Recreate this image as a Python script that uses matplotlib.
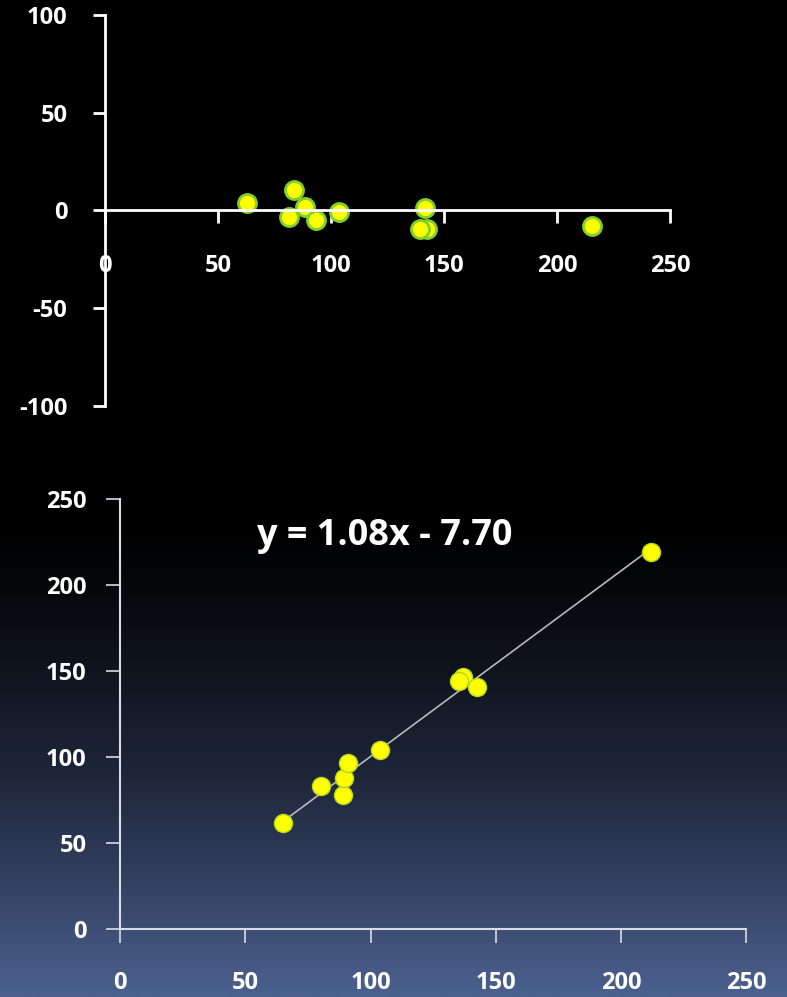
import numpy as np
import matplotlib.pyplot as plt
from matplotlib.colors import LinearSegmentedColormap

# residual plot (top)
res_x = [62.8, 83.5, 81.4, 88.5, 93.2, 103.4, 141.6, 142.3, 139.4, 215.3]
res_y = [3.7, 10.6, -3.1, 1.7, -5.1, -0.7, 1.2, -9.4, -9.4, -8.2]

# scatter with fit (bottom)
sc_x = [64.9, 80.2, 89.1, 89.5, 91.1, 103.6, 137.0, 135.3, 142.6, 211.8]
sc_y = [61.4, 83.3, 77.9, 88.0, 96.3, 104.1, 146.7, 144.2, 140.9, 219.0]
slope, intercept = 1.08, -7.70

ticks_x = [0, 50, 100, 150, 200, 250]
ticks_top_y = [-100, -50, 0, 50, 100]
ticks_bot_y = [0, 50, 100, 150, 200, 250]

plt.rcParams['font.family'] = ['Open Sans', 'DejaVu Sans']
plt.rcParams['font.weight'] = 'bold'
plt.rcParams['axes.unicode_minus'] = False

fig = plt.figure(figsize=(7.87, 9.97), dpi=100)

# background gradient
bg = fig.add_axes([0, 0, 1, 1])
cmap = LinearSegmentedColormap.from_list('bg', [(0, 0, 0), (30/255, 38/255, 58/255), (75/255, 97/255, 142/255)])
grad = np.concatenate([np.zeros(530), np.linspace(0, 1, 467) ** 1.1])
bg.imshow(grad[:, None], aspect='auto', cmap=cmap, vmin=0, vmax=1, extent=[0, 1, 0, 1], origin='upper')
bg.axis('off')

marker_kw = dict(ls='none', marker='o', markersize=13, markerfacecolor='#ffff00')

# top residual axes
ax1 = fig.add_axes([0.1334, 0.5928, 0.718, 0.3922])
ax1.patch.set_alpha(0)
ax1.plot(res_x, res_y, markeredgecolor='#7fcf2f', markeredgewidth=2, **marker_kw)
ax1.set_xlim(0, 250)
ax1.set_ylim(-100, 100)
ax1.spines['left'].set_position(('data', 0))
ax1.spines['bottom'].set_position(('data', 0))
for s in ['top', 'right']:
    ax1.spines[s].set_visible(False)
for s in ['left', 'bottom']:
    ax1.spines[s].set_color('white')
    ax1.spines[s].set_linewidth(2)
ax1.set_xticks(ticks_x)
ax1.set_yticks(ticks_top_y)
ax1.tick_params(axis='x', colors='white', direction='out', length=9, width=2, pad=22, labelsize=17)
ax1.tick_params(axis='y', colors='white', direction='out', length=9, width=2, pad=18, labelsize=17)

# bottom scatter axes
ax2 = fig.add_axes([0.1525, 0.0682, 0.796, 0.4313])
ax2.patch.set_alpha(0)
line_x = np.array([min(sc_x), max(sc_x)])
ax2.plot(line_x, slope * line_x + intercept, color='#b8b8b8', lw=1.2)
ax2.plot(sc_x, sc_y, markeredgecolor='#b5d61f', markeredgewidth=1, **marker_kw)
ax2.set_xlim(0, 250)
ax2.set_ylim(0, 250)
for s in ['top', 'right']:
    ax2.spines[s].set_visible(False)
for s in ['left', 'bottom']:
    ax2.spines[s].set_color('#d8dce6')
    ax2.spines[s].set_linewidth(1.5)
ax2.set_xticks(ticks_x)
ax2.set_yticks(ticks_bot_y)
ax2.tick_params(axis='x', colors='#d8dce6', labelcolor='white', direction='out', length=10, width=1.2, pad=20, labelsize=17)
ax2.tick_params(axis='y', colors='#d8dce6', labelcolor='white', direction='out', length=10, width=1.2, pad=14, labelsize=17)
ax2.text(0.423, 0.915, 'y = %.2fx - %.2f' % (slope, -intercept), transform=ax2.transAxes,
         ha='center', va='center', color='white', fontsize=26, fontweight='bold')

fig.savefig('out.png', dpi=100, facecolor='black')
